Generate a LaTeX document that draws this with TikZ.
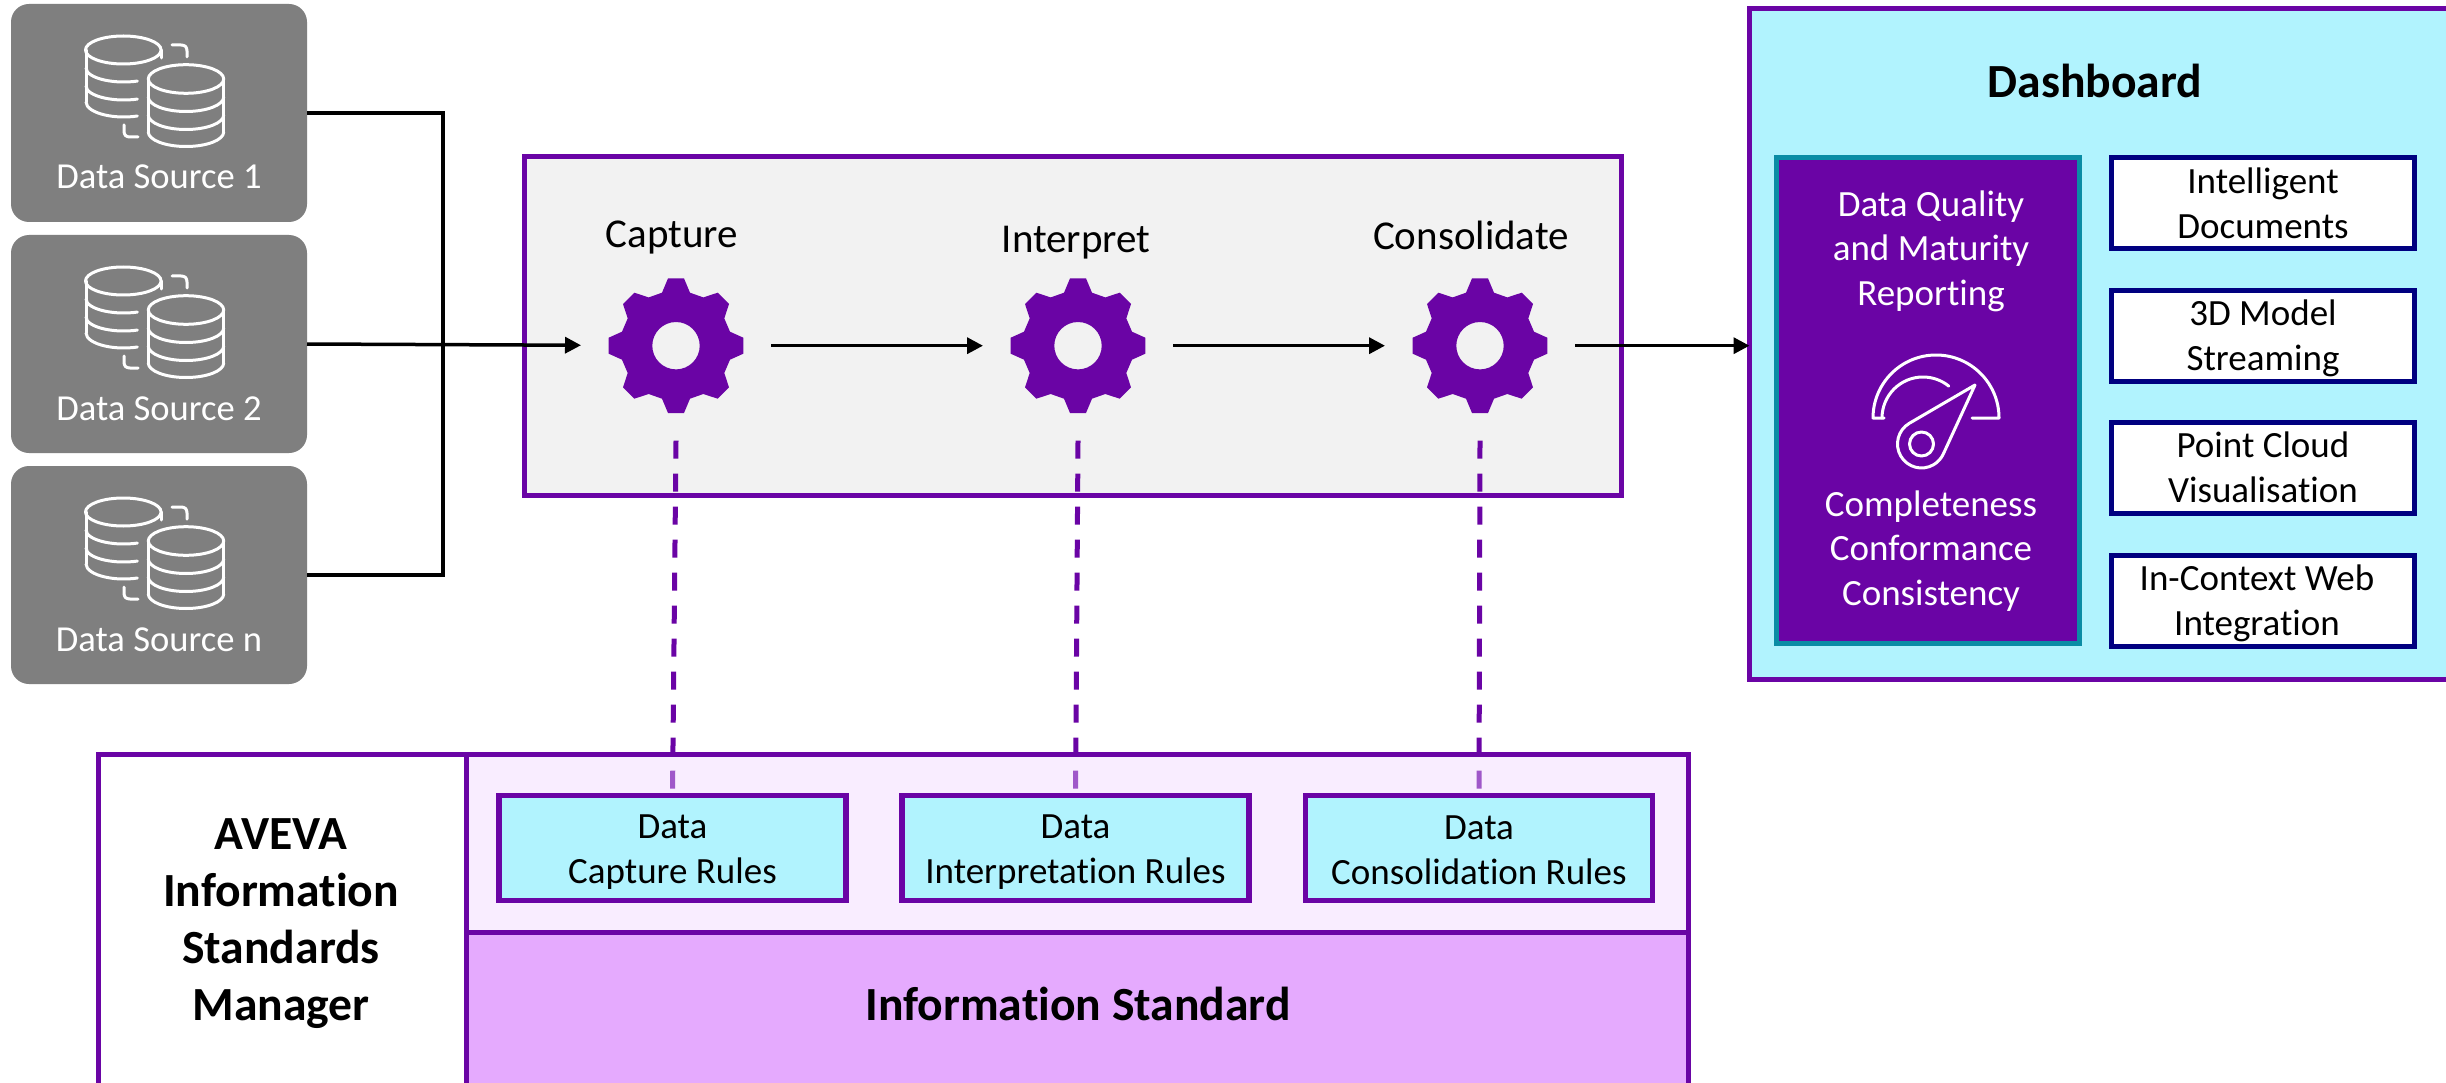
\documentclass[tikz,border=0pt]{standalone}
\usepackage{fontspec}
\setmainfont[Ligatures=NoCommon]{Carlito}
\usetikzlibrary{arrows.meta}
\definecolor{vio}{HTML}{6A04A5}
\definecolor{cyanfill}{HTML}{B1F3FE}
\definecolor{tealline}{HTML}{0A8CA5}
\definecolor{navyline}{HTML}{000080}
\definecolor{srcgray}{HTML}{7F7F7F}
\definecolor{procfill}{HTML}{F2F2F2}
\definecolor{stdlight}{rgb}{.94,.83,1}
\definecolor{stdmid}{HTML}{E5AAFE}
\pgfdeclarelayer{under}
\pgfdeclarelayer{links}
\pgfsetlayers{under,links,main}
\newcommand{\fs}[2]{\fontsize{#1}{#2}\selectfont}
\tikzset{
  x=1pt,y=-1pt,
  base/.style={inner sep=0pt,outer sep=0pt,rectangle},
  srcbox/.style={base,fill=srcgray,rounded corners=18pt,minimum width=296pt,minimum height=218pt},
  srctext/.style={base,anchor=base,text=white,font=\fs{36.6}{44}},
  proc/.style={base,draw=vio,line width=5pt,fill=procfill,minimum width=1097pt,minimum height=338pt},
  gearnode/.style={circle,inner sep=0pt,outer sep=0pt,minimum size=190pt},
  gearlabel/.style={base,font=\fs{41}{49}},
  flow/.style={line width=3.5pt,-{Triangle[length=16pt,width=16pt]}},
  plain/.style={line width=3.5pt},
  dashedlink/.style={draw=vio,line width=5pt,dash pattern=on 18pt off 15pt},
  dashpanel/.style={base,draw=vio,line width=5pt,fill=cyanfill,minimum width=721pt,minimum height=670pt},
  title/.style={base,font=\bfseries\fs{47.6}{57},align=center},
  qual/.style={base,draw=tealline,line width=5.5pt,fill=vio,minimum width=303pt,minimum height=486pt},
  qualtext/.style={base,text=white,align=center,font=\fs{37}{44.5}},
  appbox/.style={base,draw=navyline,line width=5.5pt,fill=white,minimum width=303pt,minimum height=91pt},
  apptext/.style={base,align=center,font=\fs{37}{45}},
  stdleft/.style={base,draw=vio,line width=5pt,fill=white,minimum width=368pt,minimum height=346pt},
  stdtop/.style={base,draw=vio,line width=5pt,fill=stdlight,fill opacity=.4,minimum width=1222pt,minimum height=177.5pt},
  stdbot/.style={base,draw=vio,line width=5pt,fill=stdmid,minimum width=1222pt,minimum height=168pt},
  rulebox/.style={base,draw=vio,line width=5.5pt,fill=cyanfill,minimum width=347pt,minimum height=105pt},
  pics/dbicon/.style={code={
    \begin{scope}[draw=white,line width=3pt,line cap=round,line join=round]
      \draw (123.3,50) ellipse[x radius=37.8pt,y radius=14pt];
      \draw (161.5,50) -- (161.5,58);
      \draw (86,50) -- (86,102);
      \draw (86,68) arc[start angle=180,end angle=291,x radius=37.8pt,y radius=14pt];
      \draw (86,86) arc[start angle=180,end angle=291,x radius=37.8pt,y radius=14pt];
      \draw (86,102) arc[start angle=180,end angle=291,x radius=37.8pt,y radius=15pt];
      \draw (172,45) -- (181,45) .. controls (185,45) and (187,47) .. (187,51) -- (187,57);
      \draw (124,125) -- (124,131) .. controls (124,135) and (126,137) .. (130,137) -- (138,137);
      \draw (186,79) ellipse[x radius=37.7pt,y radius=14.3pt];
      \draw (148.3,79) -- (148.3,132);
      \draw (223.7,79) -- (223.7,132);
      \draw (148.3,97) arc[start angle=180,end angle=360,x radius=37.7pt,y radius=14.5pt];
      \draw (148.3,115) arc[start angle=180,end angle=360,x radius=37.7pt,y radius=14.5pt];
      \draw (148.3,132) arc[start angle=180,end angle=360,x radius=37.7pt,y radius=14.5pt];
    \end{scope}
  }},
  pics/gearicon/.style={code={
    \fill[vio,even odd rule]
      (-8,-67.3)--(8,-67.3)--(14,-53)--(27.3,-48.3)--(41.7,-53)--(53,-41.7)--(48.3,-27.3)--(54,-14)--
      (67.3,-8)--(67.3,8)--(54,14)--(48.3,27.3)--(53,41.7)--(41.7,53)--(27.3,48.3)--(14,53)--
      (8,67.3)--(-8,67.3)--(-14,53)--(-27.3,48.3)--(-41.7,53)--(-53,41.7)--(-48.3,27.3)--(-54,14)--
      (-67.3,8)--(-67.3,-8)--(-54,-14)--(-48.3,-27.3)--(-53,-41.7)--(-41.7,-53)--(-27.3,-48.3)--(-14,-53)--cycle
      (0,0) circle[radius=23.7pt];
  }}
}
\begin{document}
\begin{tikzpicture}
\path[use as bounding box,clip] (0,0) rectangle (2446,1083);

% process panel
\begin{pgfonlayer}{under}
\fill[white] (0,0) rectangle (2446,1083);
\node[proc] (process) at (1072.5,326) {};
\end{pgfonlayer}

% data sources
\node[srcbox] (ds1) at (159,113) {};
\node[srcbox] (ds2) at (159,344) {};
\node[srcbox] (ds3) at (159,575) {};
\pic at (0,0) {dbicon};
\pic at (0,231) {dbicon};
\pic at (0,462) {dbicon};
\node[srctext] (ds1t) at (159,189) {Data Source 1};
\node[srctext] (ds2t) at (159,420) {Data Source 2};
\node[srctext] (ds3t) at (159,651) {Data Source n};

% gears
\node[gearnode] (g1) at (676,345.7) {};
\node[gearnode] (g2) at (1078,345.7) {};
\node[gearnode] (g3) at (1480,345.7) {};
\pic at (g1) {gearicon};
\pic at (g2) {gearicon};
\pic at (g3) {gearicon};
\node[gearlabel] (l1) at (672,238) {Capture};
\node[gearlabel] (l2) at (1076,243) {Interpret};
\node[gearlabel] (l3) at (1471,235) {Consolidate};

% dashboard
\node[dashpanel] (dash) at (2110,344) {};
\node[title] (dasht) at (2095,81) {Dashboard};
\node[qual] (qual) at (1928,400.5) {};
\node[qualtext] (q1) at (1931,251) {Data Quality\\and Maturity\\Reporting};
\node[qualtext] (q2) at (1931,551) {Completeness\\Conformance\\Consistency};
\begin{scope}[draw=white,line width=3pt,line cap=round,line join=round]
  \draw (1884,418) -- (1873,418) arc[start angle=180,end angle=0,radius=63pt] -- (1972,418);
  \draw (1882,418) arc[start angle=180,end angle=51,radius=41pt];
  \draw (1975,385) -- (1909.3,423.3) arc[start angle=120.5,end angle=335.5,radius=24pt] -- cycle;
  \draw (1921.5,444) circle[radius=12pt];
\end{scope}
\node[appbox] (a1) at (2263,203) {};
\node[appbox] (a2) at (2263,336) {};
\node[appbox] (a3) at (2263,468) {};
\node[appbox] (a4) at (2263,601) {};
\node[apptext] (a1t) at (2263,203) {Intelligent\\Documents};
\node[apptext] (a2t) at (2263,338) {3D Model\\Streaming};
\node[apptext] (a3t) at (2263,467) {Point Cloud\\Visualisation};
\node[apptext] (a4t) at (2257,603) {In-Context Web\\Integration};

% standards manager
\node[stdleft] (left) at (282.5,927.5) {};
\node[stdtop] (stop) at (1077,843.25) {};
\node[stdbot] (sbot) at (1077,1016) {};
\node[title] (leftt) at (281,924) {AVEVA\\Information\\Standards\\Manager};
\node[title] (sbott) at (1078,1004) {Information Standard};
\node[rulebox] (r1) at (672.5,848) {};
\node[rulebox] (r2) at (1075.5,848) {};
\node[rulebox] (r3) at (1479,848) {};
\node[apptext] (r1t) at (672.5,852) {Data\\Capture Rules};
\node[apptext] (r2t) at (1075.5,852) {Data\\Interpretation Rules};
\node[apptext] (r3t) at (1479,850) {Data\\Consolidation Rules};

% connectors
\coordinate (j) at (443,345);
\draw[plain,line join=miter] (ds1.east) -| (j);
\draw[plain,line join=miter] (ds3.east) -| (j);
\draw[flow] (ds2.east) -- (g1);
\draw[flow] (g1) -- (g2);
\draw[flow] (g2) -- (g3);
\draw[flow] (g3) -- (g3 -| dash.west);
\begin{pgfonlayer}{links}
\draw[dashedlink] (g1.south) -- (r1.north);
\draw[dashedlink] (g2.south) -- (r2.north);
\draw[dashedlink] (g3.south) -- (r3.north);
\end{pgfonlayer}
\end{tikzpicture}
\end{document}
